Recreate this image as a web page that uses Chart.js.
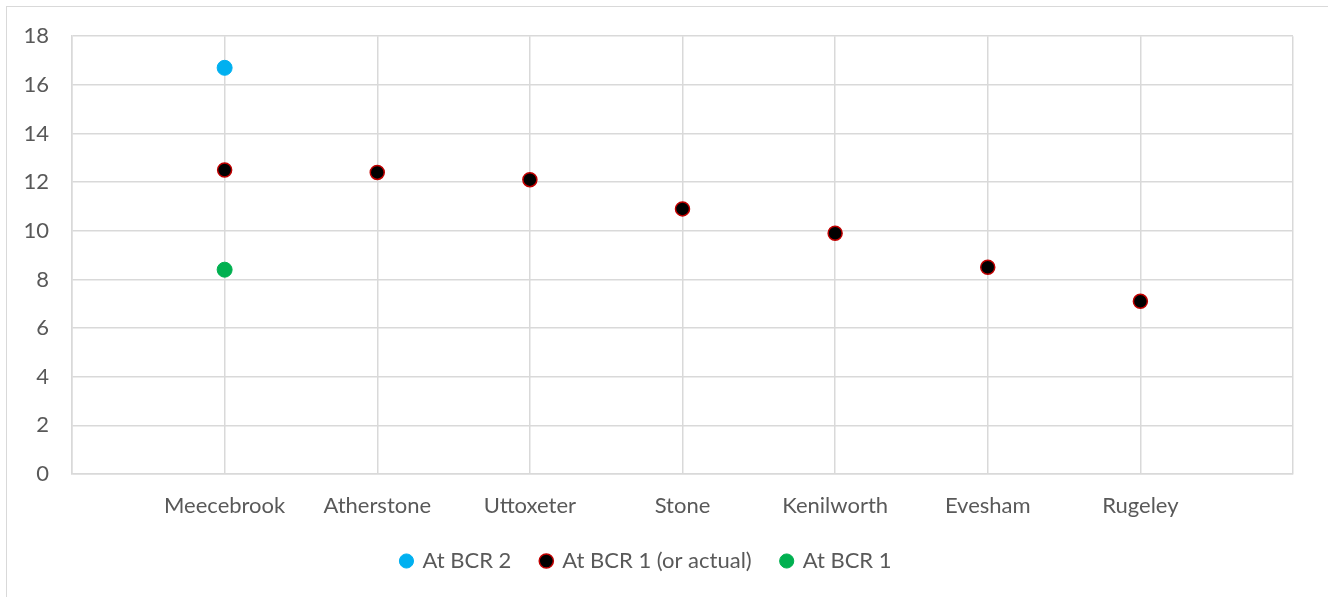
<!DOCTYPE html>
<html lang="en">
<head>
<meta charset="utf-8">
<title>BCR by site</title>
<script src="https://cdn.jsdelivr.net/npm/chart.js@4"></script>
<style>
    body { margin: 0; background: #fff; }
    #frame { position: absolute; left: 6px; top: 6px; width: 1340px; height: 610px; border: 1px solid #d9d9d9; }
    #wrap { position: absolute; left: 0; top: 0; width: 1328px; height: 597px; }
</style>
</head>
<body>
<div id="frame"></div>
<div id="wrap"><canvas id="myChart"></canvas></div>
<script>
var sites = ["Meecebrook", "Atherstone", "Uttoxeter", "Stone", "Kenilworth", "Evesham", "Rugeley"];
var atBcr2 = [16.7, null, null, null, null, null, null];
var atBcr1Actual = [12.5, 12.4, 12.1, 10.9, 9.9, 8.5, 7.1];
var atBcr1 = [8.4, null, null, null, null, null, null];
var yTicks = [0, 2, 4, 6, 8, 10, 12, 14, 16, 18];

// put each value on its category position (1..7)
function toPoints(arr) {
    var pts = [];
    for (var i = 0; i < arr.length; i++) {
        if (arr[i] !== null) pts.push({x: i + 1, y: arr[i]});
    }
    return pts;
}

var font = "Lato, 'Open Sans', sans-serif";
var grey = "#595959";

var ctx = document.getElementById("myChart").getContext("2d");
var myChart = new Chart(ctx, {
    type: "scatter",
    data: {
        datasets: [
            {
                label: "At BCR 2",
                data: toPoints(atBcr2),
                backgroundColor: "#00b0f0",
                borderColor: "#00b0f0",
                borderWidth: 1,
                pointRadius: 7.5
            },
            {
                label: "At BCR 1 (or actual)",
                data: toPoints(atBcr1Actual),
                backgroundColor: "#000000",
                borderColor: "#c00000",
                borderWidth: 1.5,
                pointRadius: 7
            },
            {
                label: "At BCR 1",
                data: toPoints(atBcr1),
                backgroundColor: "#00b050",
                borderColor: "#00b050",
                borderWidth: 1,
                pointRadius: 7.5
            }
        ]
    },
    options: {
        responsive: true,
        maintainAspectRatio: false,
        animation: false,
        layout: { padding: { top: 34, right: 35, bottom: 15, left: 0 } },
        scales: {
            x: {
                type: "linear",
                min: 0,
                max: sites.length + 1,
                afterBuildTicks: function (scale) {
                    var t = [];
                    for (var i = 0; i <= sites.length + 1; i++) t.push({value: i});
                    scale.ticks = t;
                },
                afterFit: function (scale) { scale.height = 46; },
                grid: { color: "#d9d9d9", lineWidth: 1.5, drawTicks: false },
                border: { color: "#d9d9d9", width: 1.5 },
                ticks: {
                    padding: 19,
                    color: grey,
                    font: { family: font, size: 22 },
                    maxRotation: 0,
                    autoSkip: false,
                    callback: function (v) { return sites[v - 1] || ""; }
                }
            },
            y: {
                min: 0,
                max: 18,
                afterBuildTicks: function (scale) {
                    scale.ticks = yTicks.map(function (v) { return {value: v}; });
                },
                afterFit: function (scale) { scale.width = 72; },
                grid: { color: "#d9d9d9", lineWidth: 1.5, drawTicks: false },
                border: { color: "#d9d9d9", width: 1.5 },
                ticks: {
                    padding: 23,
                    color: grey,
                    font: { family: font, size: 22 }
                }
            }
        },
        plugins: {
            legend: {
                position: "bottom",
                labels: {
                    usePointStyle: true,
                    pointStyle: "circle",
                    boxWidth: 10,
                    boxHeight: 10,
                    padding: 30,
                    color: grey,
                    font: { family: font, size: 22 }
                }
            },
            tooltip: { enabled: false }
        }
    }
});
</script>
</body>
</html>
